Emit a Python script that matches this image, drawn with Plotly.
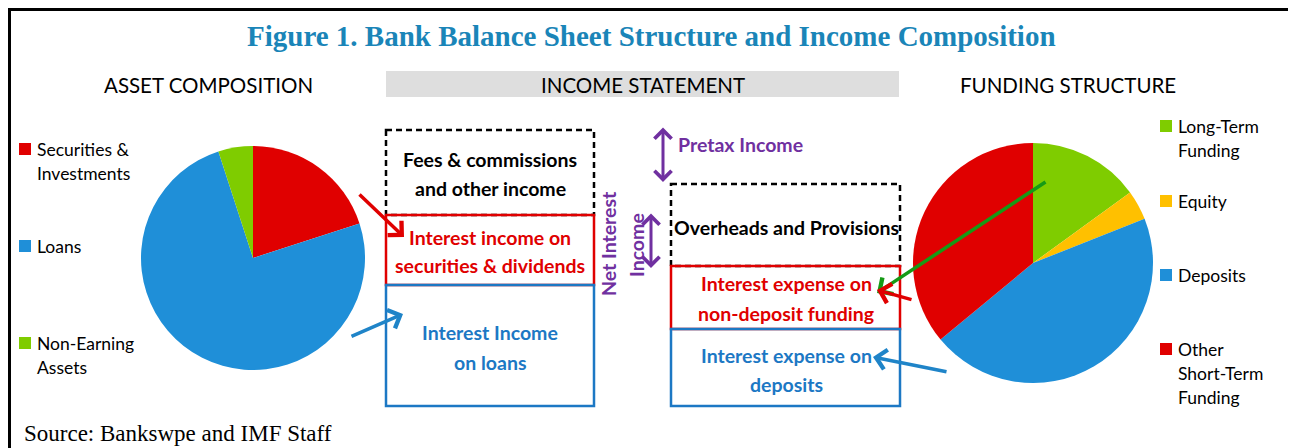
import plotly.graph_objects as go

W, H = 1296, 448
OFF = 8  # the page body keeps an 8px margin, so work in page pixels
FW, FH = W - OFF, H - OFF

# pie data (shares, %)
asset_labels = ["Securities &<br>Investments", "Loans", "Non-Earning<br>Assets"]
asset_values = [20, 75, 5]
asset_colors = ["#E00000", "#1F8FD8", "#7FCC00"]

funding_labels = ["Long-Term<br>Funding", "Equity", "Deposits", "Other<br>Short-Term<br>Funding"]
funding_values = [15, 4, 45, 36]
funding_colors = ["#7FCC00", "#FFC000", "#1F8FD8", "#E00000"]

title_text = "Figure 1. Bank Balance Sheet Structure and Income Composition"
headers = ["ASSET COMPOSITION", "INCOME STATEMENT", "FUNDING STRUCTURE"]
source_text = "Source: Bankswpe and IMF Staff"

RED = "#E00000"
BLUE = "#1C78C4"
PURPLE = "#7030A0"
FONT = "Lato"
BOX_SIZE = 19.5

fig = go.Figure()


def pie_domain(cx, cy, r):
    return dict(x=[(cx - r - OFF) / FW, (cx + r - OFF) / FW],
                y=[1 - (cy + r - OFF) / FH, 1 - (cy - r - OFF) / FH])


fig.add_trace(go.Pie(
    labels=[l.replace("<br>", " ") for l in asset_labels], values=asset_values,
    marker=dict(colors=asset_colors, line=dict(width=0)),
    sort=False, direction="clockwise", rotation=0, textinfo="none",
    showlegend=False, domain=pie_domain(253, 258, 112)
))
fig.add_trace(go.Pie(
    labels=[l.replace("<br>", " ") for l in funding_labels], values=funding_values,
    marker=dict(colors=funding_colors, line=dict(width=0)),
    sort=False, direction="clockwise", rotation=0, textinfo="none",
    showlegend=False, domain=pie_domain(1033, 263, 120)
))

shapes = []
annos = []


def txt(x, y, s, size=BOX_SIZE, color="black", bold=False, family=FONT, xanchor="center", angle=0):
    annos.append(dict(x=x, y=y, xref="x", yref="y", text="<b>%s</b>" % s if bold else s,
                      showarrow=False, xanchor=xanchor, yanchor="middle", textangle=angle,
                      font=dict(family=family, size=size, color=color)))


def arrow(x0, y0, x1, y1, color, width=3.5, both=False):
    annos.append(dict(x=x1, y=y1, ax=x0, ay=y0, xref="x", yref="y", axref="x", ayref="y",
                      text="", showarrow=True, arrowhead=4, arrowsize=1.1, arrowwidth=width,
                      startarrowhead=4, startarrowsize=1.1,
                      arrowcolor=color, arrowside="end+start" if both else "end"))


def box(x0, y0, x1, y1, color, dash="solid"):
    shapes.append(dict(type="rect", xref="x", yref="y", x0=x0, y0=y0, x1=x1, y1=y1,
                       line=dict(color=color, width=2.5, dash=dash)))


# outer frame
shapes.append(dict(type="path", xref="x", yref="y", path="M 9.5 460 L 9.5 9.5 L 1290 9.5 L 1290 460",
                   line=dict(color="black", width=3)))
# grey header band
shapes.append(dict(type="rect", xref="x", yref="y", x0=386, y0=71, x1=899, y1=97,
                   fillcolor="#DEDEDE", line=dict(width=0), layer="below"))

txt(651, 36, title_text, size=29, color="#1A85B8", bold=True, family="Liberation Serif")
txt(208, 85, headers[0], size=20.5)
txt(643, 85, headers[1], size=20.5)
txt(1068, 85, headers[2], size=20.5)
txt(22, 433, source_text, size=23, family="Liberation Serif", xanchor="left")


def legend(x, centers, labels, colors):
    for yc, lab, col in zip(centers, labels, colors):
        lines = lab.split("<br>")
        shapes.append(dict(type="rect", xref="x", yref="y", x0=x, y0=yc - 6, x1=x + 12, y1=yc + 6,
                           fillcolor=col, line=dict(width=0)))
        for i, ln in enumerate(lines):
            txt(x + 16, yc + i * 24, ln, size=17.5, xanchor="left")


legend(19, [149, 246, 343], asset_labels, asset_colors)
legend(1160, [126, 201, 275, 349], funding_labels, funding_colors)

# income statement boxes
box(386, 130, 594, 215, "black", dash="6px,4px")
box(386, 215, 594, 285, RED)
box(386, 285, 594, 406, BLUE)
box(671, 184, 900, 266, "black", dash="6px,4px")
box(671, 266, 900, 329, RED)
box(671, 329, 900, 406, BLUE)

txt(490, 159, "Fees & commissions", bold=True)
txt(490, 188, "and other income", bold=True)
txt(490, 237, "Interest income on", color=RED, bold=True)
txt(490, 265, "securities & dividends", color=RED, bold=True)
txt(490, 332, "Interest Income", color=BLUE, bold=True)
txt(490, 362, "on loans", color=BLUE, bold=True)

txt(786, 227, "Overheads and Provisions", bold=True)
txt(786, 283, "Interest expense on", color=RED, bold=True)
txt(786, 313, "non-deposit funding", color=RED, bold=True)
txt(786, 355, "Interest expense on", color=BLUE, bold=True)
txt(786, 384, "deposits", color=BLUE, bold=True)

txt(608, 244, "Net Interest", color=PURPLE, bold=True, angle=-90)
txt(636, 245, "Income", color=PURPLE, bold=True, angle=-90)
txt(676, 144, "Pretax Income", color=PURPLE, bold=True, xanchor="left")

arrow(651, 212, 651, 268, PURPLE, width=3, both=True)
arrow(663, 126, 663, 182, PURPLE, width=3, both=True)

arrow(358, 193, 404, 237, RED)
arrow(350, 337, 403, 314, "#1F84C8")
arrow(1047, 181, 877, 293, "#169A16")
arrow(913, 300, 877, 290, RED)
arrow(948, 372, 873, 357, "#1F84C8")

fig.update_layout(
    width=FW, height=FH, margin=dict(l=0, r=0, t=0, b=0),
    paper_bgcolor="white", plot_bgcolor="white",
    xaxis=dict(range=[OFF, W], visible=False, fixedrange=True),
    yaxis=dict(range=[H, OFF], visible=False, fixedrange=True),
    shapes=shapes, annotations=annos,
)

fig.write_html("out.html")
